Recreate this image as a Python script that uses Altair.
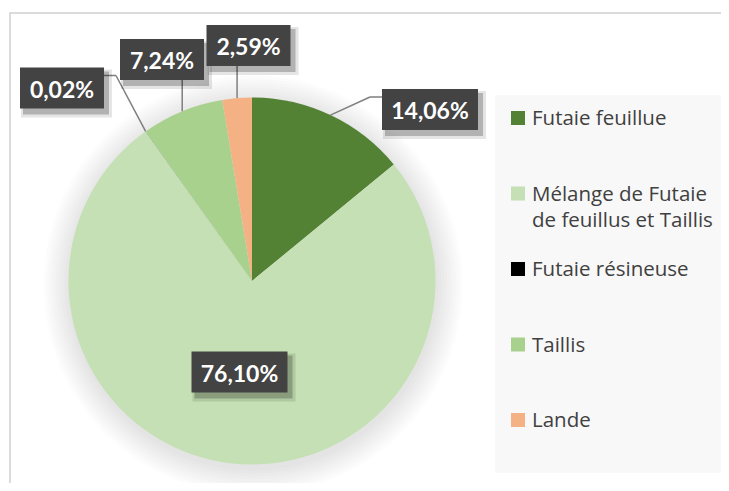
import math
import altair as alt
import pandas as pd

# ---------------- data ----------------
categories = ["Futaie feuillue", "Mélange de Futaie de feuillus et Taillis",
              "Futaie résineuse", "Taillis", "Lande"]
values = [14.06, 76.10, 0.02, 7.24, 2.59]
value_labels = ["14,06%", "76,10%", "0,02%", "7,24%", "2,59%"]
legend_labels = ["Futaie feuillue", "Mélange de Futaie\nde feuillus et Taillis",
                 "Futaie résineuse", "Taillis", "Lande"]
colors = ["#548235", "#c5e0b4", "#000000", "#a9d18e", "#f4b183"]

# ---------------- layout (annotation placement, px from pie centre) ----------------
label_dx = [178, -12.5, -190, -90, -3.5]
label_dy = [-171.5, 91, -193, -221.5, -235.5]
leader_kind = ["right", "none", "left", "up", "up"]

W, H = 713, 475
CX, CY, R = 244, 273, 183.5

df = pd.DataFrame({
    "cat": categories, "value": values, "label": value_labels,
    "legend": legend_labels, "idx": list(range(len(categories))),
    "ldx": label_dx, "ldy": label_dy, "leader": leader_kind,
})
one = pd.DataFrame({"a": [0]})

color = alt.Color("cat:N", scale=alt.Scale(domain=categories, range=colors), legend=None)

def px(field):
    return alt.X(field, type="quantitative", scale=None, axis=None)

def py(field):
    return alt.Y(field, type="quantitative", scale=None, axis=None)

base = alt.Chart(df)

geo = base.transform_window(
    cum="sum(value)", sort=[alt.SortField("idx")], frame=[None, 0]
).transform_joinaggregate(
    total="sum(value)"
).transform_calculate(
    mid="(datum.cum - datum.value/2) / datum.total * 2 * PI",
    ex=f"{CX} + {R} * sin(datum.mid)",
    ey=f"{CY} - {R} * cos(datum.mid)",
    bx=f"{CX} + datum.ldx",
    by=f"{CY} + datum.ldy",
    bw="length(datum.label) * 12 + 24",
).transform_calculate(
    bx1="datum.bx - datum.bw/2", bx2="datum.bx + datum.bw/2",
    by1="datum.by - 20.5", by2="datum.by + 20.5",
    ty="datum.by + 9.5",
    elx="datum.leader == 'up' ? datum.ex : (datum.leader == 'right' ? datum.bx - datum.bw/2 - 12 : datum.bx + datum.bw/2 + 12)",
    ely="datum.leader == 'up' ? datum.by + 20.5 : datum.by - 12.5",
    endx="datum.leader == 'up' ? datum.ex : (datum.leader == 'right' ? datum.bx - datum.bw/2 : datum.bx + datum.bw/2)",
)

# frame border
border = alt.Chart(one).mark_rect(fillOpacity=0, stroke="#d0d0d0", strokeWidth=1.5).encode(
    x=alt.value(2), x2=alt.value(W + 10), y=alt.value(5), y2=alt.value(H + 10))

# legend panel
panel = alt.Chart(one).mark_rect(fill="#f8f8f8").encode(
    x=alt.value(487), x2=alt.value(W + 10), y=alt.value(87), y2=alt.value(465))

# pie shadow
shadows = [
    alt.Chart(one).mark_arc(radius=R + d, theta=0, theta2=2 * math.pi,
                            fill="#000000", opacity=0.012).encode(
        x=alt.value(CX + 1), y=alt.value(CY + 4))
    for d in (2, 5, 8, 11, 14, 17, 20, 23, 26)
]

pie = base.mark_arc(outerRadius=R).encode(
    theta=alt.Theta("value:Q", stack=True),
    color=color,
    order=alt.Order("idx:Q"),
    x=alt.value(CX), y=alt.value(CY),
)

lead = geo.transform_filter("datum.leader != 'none'")
rule1 = lead.mark_rule(color="#7f7f7f", strokeWidth=1.5).encode(
    x=px("ex"), y=py("ey"), x2=alt.X2("elx"), y2=alt.Y2("ely"))
rule2 = lead.mark_rule(color="#7f7f7f", strokeWidth=1.5).encode(
    x=px("elx"), y=py("ely"), x2=alt.X2("endx"), y2=alt.Y2("ely"))

box_enc = dict(x=px("bx1"), x2=alt.X2("bx2"), y=py("by1"), y2=alt.Y2("by2"))
bshadow1 = geo.mark_rect(fill="#000000", opacity=0.10,
                         xOffset=1, x2Offset=8, yOffset=2, y2Offset=9).encode(**box_enc)
bshadow2 = geo.mark_rect(fill="#000000", opacity=0.22,
                         xOffset=3, x2Offset=5, yOffset=4, y2Offset=6).encode(**box_enc)
boxes = geo.mark_rect(fill="#434343").encode(**box_enc)
btext = geo.mark_text(font="Lato", fontWeight="bold", fontSize=23, color="#ffffff",
                      align="center", baseline="alphabetic").encode(
    x=px("bx"), y=py("ty"), text="label:N")

# legend
leg = base.transform_calculate(ly="110 + datum.idx * 75.5", lty="110 + datum.idx * 75.5 + 7")
leg_sq = leg.mark_square(size=196, opacity=1).encode(
    x=alt.value(510), y=py("ly"), color=color)
leg_tx = leg.mark_text(font="Open Sans", fontSize=20.5, color="#404040", align="left",
                       baseline="alphabetic", lineBreak="\n", lineHeight=26).encode(
    x=alt.value(524), y=py("lty"), text="legend:N")

chart = alt.layer(
    border, panel, *shadows, pie, rule1, rule2,
    bshadow1, bshadow2, boxes, btext, leg_sq, leg_tx
).properties(
    width=W, height=H, padding=0, autosize="none", background="#ffffff"
).configure_view(stroke=None)

chart.save("out.html", embed_options={"renderer": "svg", "actions": False})
